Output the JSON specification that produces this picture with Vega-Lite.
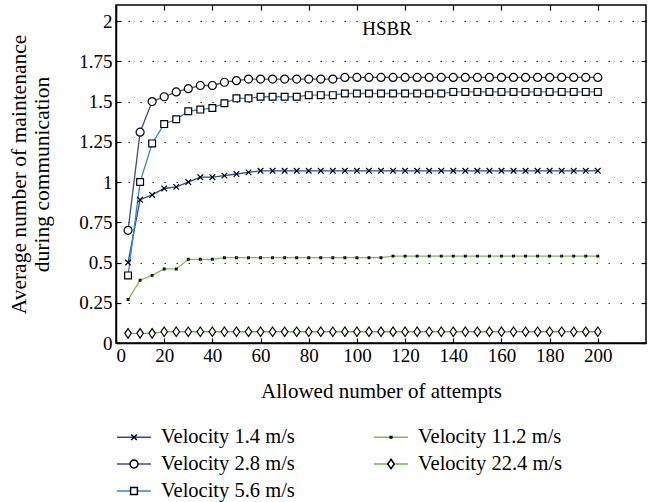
{
  "$schema": "https://vega.github.io/schema/vega-lite/v6.json",
  "width": 530,
  "height": 338,
  "autosize": {"type": "none"},
  "padding": {"left": 116, "top": 5, "right": 7, "bottom": 159},
  "background": "white",
  "title": {"text": "HSBR", "font": "Liberation Serif", "fontSize": 19, "fontWeight": "normal", "color": "black", "anchor": "middle", "baseline": "alphabetic", "offset": -24, "dy": 26, "dx": 6},
  "data": {"values": [
    {"x":5,"y":0.50,"series":"Velocity 1.4 m/s"},{"x":10,"y":0.89,"series":"Velocity 1.4 m/s"},{"x":15,"y":0.92,"series":"Velocity 1.4 m/s"},{"x":20,"y":0.96,"series":"Velocity 1.4 m/s"},{"x":25,"y":0.97,"series":"Velocity 1.4 m/s"},{"x":30,"y":1.00,"series":"Velocity 1.4 m/s"},{"x":35,"y":1.03,"series":"Velocity 1.4 m/s"},{"x":40,"y":1.03,"series":"Velocity 1.4 m/s"},{"x":45,"y":1.04,"series":"Velocity 1.4 m/s"},{"x":50,"y":1.05,"series":"Velocity 1.4 m/s"},{"x":55,"y":1.06,"series":"Velocity 1.4 m/s"},{"x":60,"y":1.07,"series":"Velocity 1.4 m/s"},{"x":65,"y":1.07,"series":"Velocity 1.4 m/s"},{"x":70,"y":1.07,"series":"Velocity 1.4 m/s"},{"x":75,"y":1.07,"series":"Velocity 1.4 m/s"},{"x":80,"y":1.07,"series":"Velocity 1.4 m/s"},{"x":85,"y":1.07,"series":"Velocity 1.4 m/s"},{"x":90,"y":1.07,"series":"Velocity 1.4 m/s"},{"x":95,"y":1.07,"series":"Velocity 1.4 m/s"},{"x":100,"y":1.07,"series":"Velocity 1.4 m/s"},{"x":105,"y":1.07,"series":"Velocity 1.4 m/s"},{"x":110,"y":1.07,"series":"Velocity 1.4 m/s"},{"x":115,"y":1.07,"series":"Velocity 1.4 m/s"},{"x":120,"y":1.07,"series":"Velocity 1.4 m/s"},{"x":125,"y":1.07,"series":"Velocity 1.4 m/s"},{"x":130,"y":1.07,"series":"Velocity 1.4 m/s"},{"x":135,"y":1.07,"series":"Velocity 1.4 m/s"},{"x":140,"y":1.07,"series":"Velocity 1.4 m/s"},{"x":145,"y":1.07,"series":"Velocity 1.4 m/s"},{"x":150,"y":1.07,"series":"Velocity 1.4 m/s"},{"x":155,"y":1.07,"series":"Velocity 1.4 m/s"},{"x":160,"y":1.07,"series":"Velocity 1.4 m/s"},{"x":165,"y":1.07,"series":"Velocity 1.4 m/s"},{"x":170,"y":1.07,"series":"Velocity 1.4 m/s"},{"x":175,"y":1.07,"series":"Velocity 1.4 m/s"},{"x":180,"y":1.07,"series":"Velocity 1.4 m/s"},{"x":185,"y":1.07,"series":"Velocity 1.4 m/s"},{"x":190,"y":1.07,"series":"Velocity 1.4 m/s"},{"x":195,"y":1.07,"series":"Velocity 1.4 m/s"},{"x":200,"y":1.07,"series":"Velocity 1.4 m/s"},
    {"x":5,"y":0.70,"series":"Velocity 2.8 m/s"},{"x":10,"y":1.31,"series":"Velocity 2.8 m/s"},{"x":15,"y":1.50,"series":"Velocity 2.8 m/s"},{"x":20,"y":1.53,"series":"Velocity 2.8 m/s"},{"x":25,"y":1.56,"series":"Velocity 2.8 m/s"},{"x":30,"y":1.58,"series":"Velocity 2.8 m/s"},{"x":35,"y":1.60,"series":"Velocity 2.8 m/s"},{"x":40,"y":1.60,"series":"Velocity 2.8 m/s"},{"x":45,"y":1.62,"series":"Velocity 2.8 m/s"},{"x":50,"y":1.63,"series":"Velocity 2.8 m/s"},{"x":55,"y":1.64,"series":"Velocity 2.8 m/s"},{"x":60,"y":1.64,"series":"Velocity 2.8 m/s"},{"x":65,"y":1.64,"series":"Velocity 2.8 m/s"},{"x":70,"y":1.64,"series":"Velocity 2.8 m/s"},{"x":75,"y":1.64,"series":"Velocity 2.8 m/s"},{"x":80,"y":1.64,"series":"Velocity 2.8 m/s"},{"x":85,"y":1.64,"series":"Velocity 2.8 m/s"},{"x":90,"y":1.64,"series":"Velocity 2.8 m/s"},{"x":95,"y":1.65,"series":"Velocity 2.8 m/s"},{"x":100,"y":1.65,"series":"Velocity 2.8 m/s"},{"x":105,"y":1.65,"series":"Velocity 2.8 m/s"},{"x":110,"y":1.65,"series":"Velocity 2.8 m/s"},{"x":115,"y":1.65,"series":"Velocity 2.8 m/s"},{"x":120,"y":1.65,"series":"Velocity 2.8 m/s"},{"x":125,"y":1.65,"series":"Velocity 2.8 m/s"},{"x":130,"y":1.65,"series":"Velocity 2.8 m/s"},{"x":135,"y":1.65,"series":"Velocity 2.8 m/s"},{"x":140,"y":1.65,"series":"Velocity 2.8 m/s"},{"x":145,"y":1.65,"series":"Velocity 2.8 m/s"},{"x":150,"y":1.65,"series":"Velocity 2.8 m/s"},{"x":155,"y":1.65,"series":"Velocity 2.8 m/s"},{"x":160,"y":1.65,"series":"Velocity 2.8 m/s"},{"x":165,"y":1.65,"series":"Velocity 2.8 m/s"},{"x":170,"y":1.65,"series":"Velocity 2.8 m/s"},{"x":175,"y":1.65,"series":"Velocity 2.8 m/s"},{"x":180,"y":1.65,"series":"Velocity 2.8 m/s"},{"x":185,"y":1.65,"series":"Velocity 2.8 m/s"},{"x":190,"y":1.65,"series":"Velocity 2.8 m/s"},{"x":195,"y":1.65,"series":"Velocity 2.8 m/s"},{"x":200,"y":1.65,"series":"Velocity 2.8 m/s"},
    {"x":5,"y":0.42,"series":"Velocity 5.6 m/s"},{"x":10,"y":1.00,"series":"Velocity 5.6 m/s"},{"x":15,"y":1.24,"series":"Velocity 5.6 m/s"},{"x":20,"y":1.36,"series":"Velocity 5.6 m/s"},{"x":25,"y":1.39,"series":"Velocity 5.6 m/s"},{"x":30,"y":1.44,"series":"Velocity 5.6 m/s"},{"x":35,"y":1.45,"series":"Velocity 5.6 m/s"},{"x":40,"y":1.46,"series":"Velocity 5.6 m/s"},{"x":45,"y":1.49,"series":"Velocity 5.6 m/s"},{"x":50,"y":1.52,"series":"Velocity 5.6 m/s"},{"x":55,"y":1.52,"series":"Velocity 5.6 m/s"},{"x":60,"y":1.53,"series":"Velocity 5.6 m/s"},{"x":65,"y":1.53,"series":"Velocity 5.6 m/s"},{"x":70,"y":1.53,"series":"Velocity 5.6 m/s"},{"x":75,"y":1.53,"series":"Velocity 5.6 m/s"},{"x":80,"y":1.54,"series":"Velocity 5.6 m/s"},{"x":85,"y":1.54,"series":"Velocity 5.6 m/s"},{"x":90,"y":1.54,"series":"Velocity 5.6 m/s"},{"x":95,"y":1.55,"series":"Velocity 5.6 m/s"},{"x":100,"y":1.55,"series":"Velocity 5.6 m/s"},{"x":105,"y":1.55,"series":"Velocity 5.6 m/s"},{"x":110,"y":1.55,"series":"Velocity 5.6 m/s"},{"x":115,"y":1.55,"series":"Velocity 5.6 m/s"},{"x":120,"y":1.55,"series":"Velocity 5.6 m/s"},{"x":125,"y":1.55,"series":"Velocity 5.6 m/s"},{"x":130,"y":1.55,"series":"Velocity 5.6 m/s"},{"x":135,"y":1.55,"series":"Velocity 5.6 m/s"},{"x":140,"y":1.56,"series":"Velocity 5.6 m/s"},{"x":145,"y":1.56,"series":"Velocity 5.6 m/s"},{"x":150,"y":1.56,"series":"Velocity 5.6 m/s"},{"x":155,"y":1.56,"series":"Velocity 5.6 m/s"},{"x":160,"y":1.56,"series":"Velocity 5.6 m/s"},{"x":165,"y":1.56,"series":"Velocity 5.6 m/s"},{"x":170,"y":1.56,"series":"Velocity 5.6 m/s"},{"x":175,"y":1.56,"series":"Velocity 5.6 m/s"},{"x":180,"y":1.56,"series":"Velocity 5.6 m/s"},{"x":185,"y":1.56,"series":"Velocity 5.6 m/s"},{"x":190,"y":1.56,"series":"Velocity 5.6 m/s"},{"x":195,"y":1.56,"series":"Velocity 5.6 m/s"},{"x":200,"y":1.56,"series":"Velocity 5.6 m/s"},
    {"x":5,"y":0.27,"series":"Velocity 11.2 m/s"},{"x":10,"y":0.39,"series":"Velocity 11.2 m/s"},{"x":15,"y":0.42,"series":"Velocity 11.2 m/s"},{"x":20,"y":0.46,"series":"Velocity 11.2 m/s"},{"x":25,"y":0.46,"series":"Velocity 11.2 m/s"},{"x":30,"y":0.52,"series":"Velocity 11.2 m/s"},{"x":35,"y":0.52,"series":"Velocity 11.2 m/s"},{"x":40,"y":0.52,"series":"Velocity 11.2 m/s"},{"x":45,"y":0.53,"series":"Velocity 11.2 m/s"},{"x":50,"y":0.53,"series":"Velocity 11.2 m/s"},{"x":55,"y":0.53,"series":"Velocity 11.2 m/s"},{"x":60,"y":0.53,"series":"Velocity 11.2 m/s"},{"x":65,"y":0.53,"series":"Velocity 11.2 m/s"},{"x":70,"y":0.53,"series":"Velocity 11.2 m/s"},{"x":75,"y":0.53,"series":"Velocity 11.2 m/s"},{"x":80,"y":0.53,"series":"Velocity 11.2 m/s"},{"x":85,"y":0.53,"series":"Velocity 11.2 m/s"},{"x":90,"y":0.53,"series":"Velocity 11.2 m/s"},{"x":95,"y":0.53,"series":"Velocity 11.2 m/s"},{"x":100,"y":0.53,"series":"Velocity 11.2 m/s"},{"x":105,"y":0.53,"series":"Velocity 11.2 m/s"},{"x":110,"y":0.53,"series":"Velocity 11.2 m/s"},{"x":115,"y":0.54,"series":"Velocity 11.2 m/s"},{"x":120,"y":0.54,"series":"Velocity 11.2 m/s"},{"x":125,"y":0.54,"series":"Velocity 11.2 m/s"},{"x":130,"y":0.54,"series":"Velocity 11.2 m/s"},{"x":135,"y":0.54,"series":"Velocity 11.2 m/s"},{"x":140,"y":0.54,"series":"Velocity 11.2 m/s"},{"x":145,"y":0.54,"series":"Velocity 11.2 m/s"},{"x":150,"y":0.54,"series":"Velocity 11.2 m/s"},{"x":155,"y":0.54,"series":"Velocity 11.2 m/s"},{"x":160,"y":0.54,"series":"Velocity 11.2 m/s"},{"x":165,"y":0.54,"series":"Velocity 11.2 m/s"},{"x":170,"y":0.54,"series":"Velocity 11.2 m/s"},{"x":175,"y":0.54,"series":"Velocity 11.2 m/s"},{"x":180,"y":0.54,"series":"Velocity 11.2 m/s"},{"x":185,"y":0.54,"series":"Velocity 11.2 m/s"},{"x":190,"y":0.54,"series":"Velocity 11.2 m/s"},{"x":195,"y":0.54,"series":"Velocity 11.2 m/s"},{"x":200,"y":0.54,"series":"Velocity 11.2 m/s"},
    {"x":5,"y":0.06,"series":"Velocity 22.4 m/s"},{"x":10,"y":0.06,"series":"Velocity 22.4 m/s"},{"x":15,"y":0.06,"series":"Velocity 22.4 m/s"},{"x":20,"y":0.07,"series":"Velocity 22.4 m/s"},{"x":25,"y":0.07,"series":"Velocity 22.4 m/s"},{"x":30,"y":0.07,"series":"Velocity 22.4 m/s"},{"x":35,"y":0.07,"series":"Velocity 22.4 m/s"},{"x":40,"y":0.07,"series":"Velocity 22.4 m/s"},{"x":45,"y":0.07,"series":"Velocity 22.4 m/s"},{"x":50,"y":0.07,"series":"Velocity 22.4 m/s"},{"x":55,"y":0.07,"series":"Velocity 22.4 m/s"},{"x":60,"y":0.07,"series":"Velocity 22.4 m/s"},{"x":65,"y":0.07,"series":"Velocity 22.4 m/s"},{"x":70,"y":0.07,"series":"Velocity 22.4 m/s"},{"x":75,"y":0.07,"series":"Velocity 22.4 m/s"},{"x":80,"y":0.07,"series":"Velocity 22.4 m/s"},{"x":85,"y":0.07,"series":"Velocity 22.4 m/s"},{"x":90,"y":0.07,"series":"Velocity 22.4 m/s"},{"x":95,"y":0.07,"series":"Velocity 22.4 m/s"},{"x":100,"y":0.07,"series":"Velocity 22.4 m/s"},{"x":105,"y":0.07,"series":"Velocity 22.4 m/s"},{"x":110,"y":0.07,"series":"Velocity 22.4 m/s"},{"x":115,"y":0.07,"series":"Velocity 22.4 m/s"},{"x":120,"y":0.07,"series":"Velocity 22.4 m/s"},{"x":125,"y":0.07,"series":"Velocity 22.4 m/s"},{"x":130,"y":0.07,"series":"Velocity 22.4 m/s"},{"x":135,"y":0.07,"series":"Velocity 22.4 m/s"},{"x":140,"y":0.07,"series":"Velocity 22.4 m/s"},{"x":145,"y":0.07,"series":"Velocity 22.4 m/s"},{"x":150,"y":0.07,"series":"Velocity 22.4 m/s"},{"x":155,"y":0.07,"series":"Velocity 22.4 m/s"},{"x":160,"y":0.07,"series":"Velocity 22.4 m/s"},{"x":165,"y":0.07,"series":"Velocity 22.4 m/s"},{"x":170,"y":0.07,"series":"Velocity 22.4 m/s"},{"x":175,"y":0.07,"series":"Velocity 22.4 m/s"},{"x":180,"y":0.07,"series":"Velocity 22.4 m/s"},{"x":185,"y":0.07,"series":"Velocity 22.4 m/s"},{"x":190,"y":0.07,"series":"Velocity 22.4 m/s"},{"x":195,"y":0.07,"series":"Velocity 22.4 m/s"},{"x":200,"y":0.07,"series":"Velocity 22.4 m/s"}
  ]},
  "layer": [
    {
      "mark": {"type": "line", "strokeWidth": 1.3},
      "encoding": {
        "x": {"field": "x", "type": "quantitative",
          "scale": {"domain": [0, 220], "nice": false, "zero": false},
          "axis": {"orient": "bottom", "values": [0,20,40,60,80,100,120,140,160,180,200], "title": "Allowed number of attempts", "titleFont": "Liberation Serif", "labelFont": "Liberation Serif", "grid": false, "tickSize": -5, "labelPadding": 8, "titlePadding": 15}},
        "y": {"field": "y", "type": "quantitative",
          "scale": {"domain": [0, 2.1], "nice": false, "zero": false},
          "axis": {"orient": "left", "values": [0,0.25,0.5,0.75,1,1.25,1.5,1.75,2], "labelExpr": "toString(datum.value)", "title": ["Average number of maintenance", "during communication"], "titleFont": "Liberation Serif", "labelFont": "Liberation Serif", "titleFontSize": 21.5, "grid": true, "gridDash": [1.5, 10.5], "gridColor": "#333333", "gridWidth": 1, "tickSize": -5, "labelPadding": 9, "titlePadding": 25, "titleLineHeight": 23}},
        "color": {"field": "series", "type": "nominal",
          "scale": {"domain": ["Velocity 1.4 m/s", "Velocity 2.8 m/s", "Velocity 5.6 m/s", "Velocity 11.2 m/s", "Velocity 22.4 m/s"],
                    "range": ["#2a4aa8", "#3c4c96", "#2f86cc", "#7dbf45", "#66b944"]},
          "legend": {"orient": "none", "legendX": 0, "legendY": 422, "title": null, "columns": 2, "columnPadding": 78, "rowPadding": 6, "clipHeight": 20, "symbolType": "stroke", "symbolSize": 1156, "symbolStrokeWidth": 1.5, "labelOffset": 9, "labelFont": "Liberation Serif", "labelFontSize": 20.5, "labelColor": "black", "labelLimit": 300, "padding": 0}}
      }
    },
    {
      "mark": {"type": "point", "filled": false, "fill": "white", "stroke": "black", "strokeWidth": 1.2, "size": 1156, "opacity": 1},
      "encoding": {
        "x": {"field": "x", "type": "quantitative",
          "axis": {"orient": "top", "values": [0,20,40,60,80,100,120,140,160,180,200], "labels": false, "domain": false, "title": null, "grid": false, "tickSize": -5}},
        "y": {"field": "y", "type": "quantitative",
          "axis": {"orient": "right", "values": [0,0.25,0.5,0.75,1,1.25,1.5,1.75,2], "labels": false, "domain": false, "title": null, "grid": false, "tickSize": -5}},
        "shape": {"field": "series", "type": "nominal", "sort": null,
          "scale": {"range": ["M-0.165,-0.165L0.165,0.165M-0.165,0.165L0.165,-0.165", "M-0.235,0A0.235,0.235 0 1,0 0.235,0A0.235,0.235 0 1,0 -0.235,0Z", "M-0.2,-0.2H0.2V0.2H-0.2Z", "M-0.05,-0.05H0.05V0.05H-0.05Z", "M0,-0.28L0.19,0L0,0.28L-0.19,0Z"]},
          "legend": {"orient": "none", "legendX": 0, "legendY": 422, "title": null, "columns": 2, "columnPadding": 78, "rowPadding": 6, "clipHeight": 20, "symbolSize": 1156, "labelOffset": 9, "labelFont": "Liberation Serif", "labelFontSize": 20.5, "labelOpacity": 0, "labelLimit": 300, "padding": 0,
            "encode": {"symbols": {"update": {"stroke": {"value": "black"}, "fill": {"value": "white"}, "strokeWidth": {"value": 1.2}, "opacity": {"value": 1}}}}}}
      }
    }
  ],
  "resolve": {"axis": {"x": "independent", "y": "independent"}},
  "config": {
    "view": {"stroke": "black", "strokeWidth": 1.5},
    "axis": {"labelFontSize": 19, "labelColor": "black", "titleFontSize": 21, "titleFontWeight": "normal", "titleColor": "black", "domainColor": "black", "domainWidth": 1.5, "tickColor": "black", "tickWidth": 1.2}
  }
}
